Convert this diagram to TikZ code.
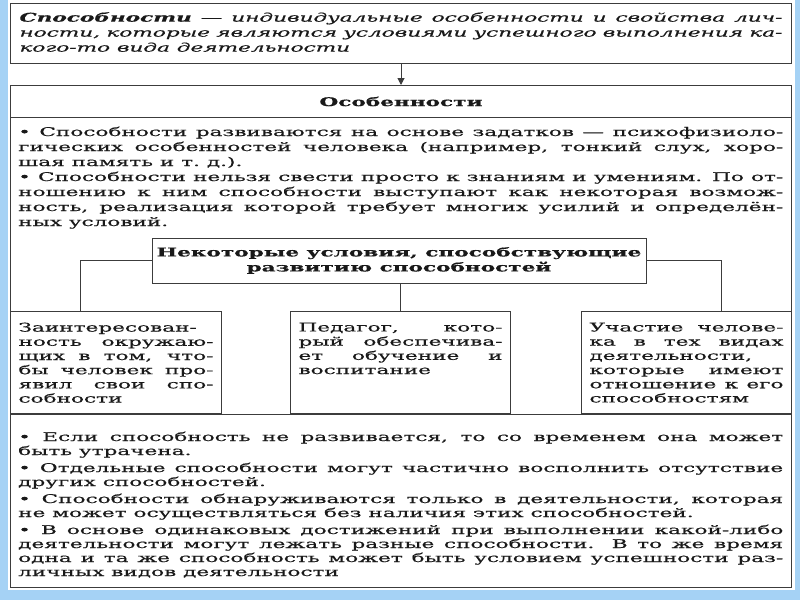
\documentclass[tikz,border=0pt]{standalone}
\usepackage{fontspec}
\setmainfont{DejaVu Serif}[FakeStretch=1.8, FakeBold=0.5]
\usetikzlibrary{arrows.meta,positioning}
\definecolor{slideblue}{RGB}{165,210,245}
\definecolor{rule}{RGB}{60,60,60}
\setlength{\parindent}{0pt}
\tolerance=9999
\hyphenpenalty=10000
\exhyphenpenalty=10000

\begin{document}
\begin{tikzpicture}[
  x=1pt, y=-1pt, >={Triangle[length=7pt,width=7pt]},
  every node/.style={font=\fontsize{12}{15}\selectfont, text=black!90},
  box/.style={draw=rule, line width=1pt, inner sep=0pt, anchor=north west},
  body/.style={inner sep=0pt, align=justify, anchor=north west},
  tight/.style={font=\fontsize{12}{14.2}\selectfont},
  title/.style={font=\fontsize{12}{15}\selectfont\bfseries, align=center},
  link/.style={draw=rule, line width=1pt}
]
  % slide background
  \fill[slideblue] (0,0) rectangle (800,600);
  \fill[white] (8,0) rectangle (795,590);

  % definition
  \node[box, minimum width=781pt, minimum height=60pt] (defn) at (10,3) {};
  \node[body, text width=763pt, anchor=north] (defntxt)
    at ([yshift=-9pt]defn.north)
    {\itshape\textbf{Способности} — индивидуальные особенности и свойства лич-\linebreak
     ности, которые являются условиями успешного выполнения ка-\linebreak
     кого-то вида деятельности};

  % features frame
  \node[box, minimum width=781pt, minimum height=502pt] (main) at (10,85) {};
  \node[box, title, minimum width=781pt, minimum height=32pt] (head) at (10,85) {Особенности};
  \draw[link, ->] (defn) -- (main);

  \node[body, text width=765pt] (feattxt) at (18,126.5)
    {• Способности развиваются на основе задатков — психофизиоло-\linebreak
     гических особенностей человека (например, тонкий слух, хоро-\linebreak
     шая память и т.~д.).\par
     • Способности нельзя свести просто к знаниям и умениям. По от-\linebreak
     ношению к ним способности выступают как некоторая возмож-\linebreak
     ность, реализация которой требует многих усилий и определён-\linebreak
     ных условий.};

  % conditions
  \node[box, title, anchor=center, minimum width=494pt, minimum height=45pt] (cond)
    at (399,260.5) {Некоторые условия, способствующие\\развитию способностей};

  \node[box, minimum width=211pt, minimum height=102pt] (interest) at (10,311) {};
  \node[box, minimum width=220pt, minimum height=102pt] (teacher) at (290,311) {};
  \node[box, minimum width=210pt, minimum height=102pt] (practice) at (581,311) {};

  \node[body, tight, text width=195pt, anchor=north] (interesttxt)
    at ([yshift=-11.5pt]interest.north)
    {Заинтересован-\linebreak ность окружаю-\linebreak щих в том, что-\linebreak
     бы человек про-\linebreak явил свои спо-\linebreak собности};
  \node[body, tight, text width=204pt, anchor=north] (teachertxt)
    at ([yshift=-11.5pt]teacher.north)
    {Педагог, кото-\linebreak рый обеспечива-\linebreak ет обучение и\linebreak воспитание};
  \node[body, tight, text width=194pt, anchor=north] (practicetxt)
    at ([yshift=-11.5pt]practice.north)
    {Участие челове-\linebreak ка в тех видах\linebreak деятельности,\linebreak
     которые имеют\linebreak отношение к его\linebreak способностям};

  \draw[link] (cond.west) -| ([xshift=-35.5pt]interest.north);
  \draw[link] (cond.east) -| ([xshift=35pt]practice.north);
  \draw[link] (cond.south -| teacher.north) -- (teacher.north);
  \draw[link] (interest.south west) -- (practice.south east);

  % remarks
  \node[body, font=\fontsize{12}{14}\selectfont, text width=765pt] (notes) at (18,431.5)
    {\setlength{\parskip}{3pt}%
     • Если способность не развивается, то со временем она может\linebreak
     быть утрачена.\par
     • Отдельные способности могут частично восполнить отсутствие\linebreak
     других способностей.\par
     • Способности обнаруживаются только в деятельности, которая\linebreak
     не может осуществляться без наличия этих способностей.\par
     • В основе одинаковых достижений при выполнении какой-либо\linebreak
     деятельности могут лежать разные способности. В то же время\linebreak
     одна и та же способность может быть условием успешности раз-\linebreak
     личных видов деятельности};
\end{tikzpicture}
\end{document}
